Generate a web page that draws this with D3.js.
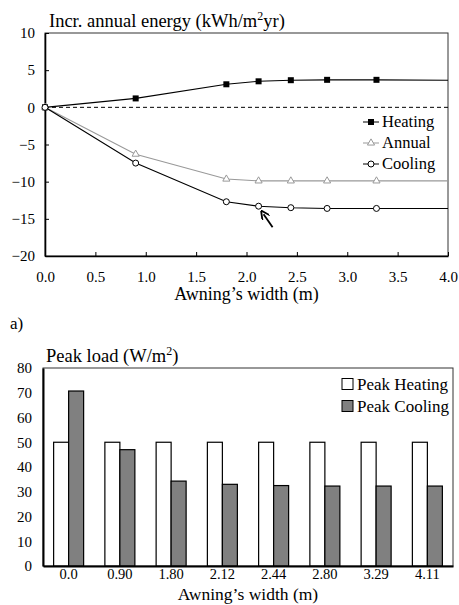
<!DOCTYPE html>
<html>
<head>
<meta charset="utf-8">
<script src="https://cdn.jsdelivr.net/npm/d3@7"></script>
<style>
  body { margin: 0; background: #fff; }
  svg { display: block; }
  svg text { font-family: 'Liberation Serif', 'Times New Roman', serif; fill: #000; }
</style>
</head>
<body>
<svg id="chart" width="459" height="605"></svg>
<script>
// top chart data
const widthsTop = [0, 0.9, 1.8, 2.12, 2.44, 2.8, 3.29, 4.0];
const heating = [0, 1.2, 3.1, 3.5, 3.65, 3.7, 3.7, 3.65];
const annual = [0, -6.3, -9.65, -9.9, -9.9, -9.9, -9.9, -9.9];
const cooling = [0, -7.5, -12.7, -13.3, -13.5, -13.6, -13.6, -13.6];
const xTicksTop = [0, 0.5, 1, 1.5, 2, 2.5, 3, 3.5, 4];
const yTicksTop = [10, 5, 0, -5, -10, -15, -20];

// bottom chart data
const categories = ["0.0", "0.90", "1.80", "2.12", "2.44", "2.80", "3.29", "4.11"];
const peakHeating = [50, 50, 50, 50, 50, 50, 50, 50];
const peakCooling = [70.7, 47, 34.3, 33, 32.5, 32.3, 32.3, 32.3];
const yTicksBottom = [0, 10, 20, 30, 40, 50, 60, 70, 80];

const svg = d3.select("#chart");
const FONT = "Liberation Serif";

// ---------- top chart ----------
const x = d3.scaleLinear().domain([0, 4]).range([45, 448]);
const y = d3.scaleLinear().domain([-20, 10]).range([256, 33]);

const gTop = svg.append("g");

// frame
gTop.append("rect")
  .attr("x", x(0)).attr("y", y(10))
  .attr("width", x(4) - x(0)).attr("height", y(-20) - y(10))
  .style("fill", "none").style("stroke", "#333").style("stroke-width", 1);

gTop.append("g")
  .attr("transform", `translate(0,${y(-20)})`)
  .call(d3.axisBottom(x).tickValues(xTicksTop).tickFormat(d3.format(".1f")).tickSizeInner(-4).tickSizeOuter(0).tickPadding(15))
  .attr("font-family", FONT).attr("font-size", 15)
  .call(g => g.select(".domain").style("stroke", "#000").style("stroke-width", 1.6));

gTop.append("g")
  .attr("transform", `translate(${x(0)},0)`)
  .call(d3.axisLeft(y).tickValues(yTicksTop).tickSizeInner(-4).tickSizeOuter(0).tickPadding(10))
  .attr("font-family", FONT).attr("font-size", 15)
  .call(g => g.select(".domain").style("stroke", "#000").style("stroke-width", 1.6));

// dashed zero line
gTop.append("line")
  .attr("x1", x(0)).attr("x2", x(4))
  .attr("y1", y(0)).attr("y2", y(0))
  .style("stroke", "#000").style("stroke-dasharray", "4,3");

const line = d3.line().x((d, i) => x(widthsTop[i])).y(d => y(d));

const series = [
  { name: "Heating", values: heating, color: "#000", marker: "square" },
  { name: "Annual", values: annual, color: "#999", marker: "triangle" },
  { name: "Cooling", values: cooling, color: "#000", marker: "circle" }
];

const drawMarker = (g, type, color, cx, cy) => {
  if (type === "square") {
    g.append("rect").attr("x", cx - 3).attr("y", cy - 3).attr("width", 6).attr("height", 6)
      .style("fill", color);
  } else if (type === "triangle") {
    g.append("path").attr("d", d3.symbol().type(d3.symbolTriangle).size(22)())
      .attr("transform", `translate(${cx},${cy})`)
      .style("fill", "#fff").style("stroke", color);
  } else {
    g.append("circle").attr("cx", cx).attr("cy", cy).attr("r", 3)
      .style("fill", "#fff").style("stroke", color);
  }
};

series.forEach(s => {
  gTop.append("path").datum(s.values)
    .attr("d", line)
    .style("fill", "none").style("stroke", s.color).style("stroke-width", 1.1);
  // last point (4.0) has no marker
  s.values.slice(0, -1).forEach((v, i) => drawMarker(gTop, s.marker, s.color, x(widthsTop[i]), y(v)));
});

// legend
series.forEach((s, i) => {
  const ly = 122 + i * 21;
  gTop.append("line").attr("x1", 363).attr("x2", 379).attr("y1", ly).attr("y2", ly)
    .style("stroke", s.color);
  drawMarker(gTop, s.marker, s.color, 371, ly);
  gTop.append("text").attr("x", 382).attr("y", ly + 5).text(s.name)
    .style("font-size", "16.5px");
});

// arrow pointing to the 2.12 point
svg.append("defs").append("marker")
  .attr("id", "arrowhead").attr("viewBox", "0 0 10 10")
  .attr("refX", 5).attr("refY", 5)
  .attr("markerWidth", 5).attr("markerHeight", 5)
  .attr("orient", "auto")
  .append("path").attr("d", "M0,0 L10,5 L0,10").style("fill", "none").style("stroke", "#000").style("stroke-width", 2);

gTop.append("line")
  .attr("x1", x(2.12) + 14).attr("y1", y(-13.3) + 21)
  .attr("x2", x(2.12) + 5).attr("y2", y(-13.3) + 8)
  .attr("marker-end", "url(#arrowhead)")
  .style("stroke", "#000").style("stroke-width", 1.8);

gTop.append("text").attr("x", 49).attr("y", 26.5)
  .style("font-size", "18.5px")
  .html('Incr. annual energy (kWh/m<tspan dy="-7" font-size="12">2</tspan><tspan dy="7">yr)</tspan>');

gTop.append("text").attr("x", x(2)).attr("y", 300).attr("text-anchor", "middle")
  .style("font-size", "18px").text("Awning\u2019s width (m)");

svg.append("text").attr("x", 10).attr("y", 329).style("font-size", "17px").text("a)");

// ---------- bottom chart ----------
const xb = d3.scaleBand().domain(categories).range([43, 453]);
const yb = d3.scaleLinear().domain([0, 80]).range([566, 368]);
const barW = 15;

const gBottom = svg.append("g");

gBottom.append("rect")
  .attr("x", 43).attr("y", yb(80))
  .attr("width", 453 - 43).attr("height", yb(0) - yb(80))
  .style("fill", "none").style("stroke", "#333").style("stroke-width", 1);

const groups = gBottom.selectAll("g.bar-group").data(categories).enter()
  .append("g").attr("class", "bar-group")
  .attr("transform", d => `translate(${xb(d) + xb.bandwidth() / 2},0)`);

groups.append("rect")
  .attr("x", -barW).attr("width", barW)
  .attr("y", (d, i) => yb(peakHeating[i]))
  .attr("height", (d, i) => yb(0) - yb(peakHeating[i]))
  .style("fill", "#fff").style("stroke", "#000").style("stroke-width", 1.2);

groups.append("rect")
  .attr("x", 0).attr("width", barW)
  .attr("y", (d, i) => yb(peakCooling[i]))
  .attr("height", (d, i) => yb(0) - yb(peakCooling[i]))
  .style("fill", "#808080").style("stroke", "#000").style("stroke-width", 1.2);

gBottom.append("g")
  .attr("transform", `translate(0,${yb(0)})`)
  .call(d3.axisBottom(xb).tickSize(0).tickPadding(3))
  .attr("font-family", FONT).attr("font-size", 14.5)
  .call(g => g.select(".domain").style("stroke", "#000").style("stroke-width", 2));

gBottom.append("g")
  .attr("transform", `translate(43,0)`)
  .call(d3.axisLeft(yb).tickValues(yTicksBottom).tickSize(0).tickPadding(11))
  .attr("font-family", FONT).attr("font-size", 15)
  .call(g => g.select(".domain").style("stroke", "#000").style("stroke-width", 2));

// legend
const legendItems = [
  { name: "Peak Heating", fill: "#fff" },
  { name: "Peak Cooling", fill: "#808080" }
];
legendItems.forEach((l, i) => {
  const ly = 384 + i * 22;
  gBottom.append("rect").attr("x", 342).attr("y", ly - 5.5).attr("width", 11).attr("height", 11)
    .style("fill", l.fill).style("stroke", "#000");
  gBottom.append("text").attr("x", 357).attr("y", ly + 5.5).text(l.name).style("font-size", "17px");
});

gBottom.append("text").attr("x", 46).attr("y", 361.5)
  .style("font-size", "18.5px")
  .html('Peak load (W/m<tspan dy="-7" font-size="12">2</tspan><tspan dy="7">)</tspan>');

gBottom.append("text").attr("x", 248).attr("y", 599.5).attr("text-anchor", "middle")
  .style("font-size", "17.5px").text("Awning\u2019s width (m)");
</script>
</body>
</html>
